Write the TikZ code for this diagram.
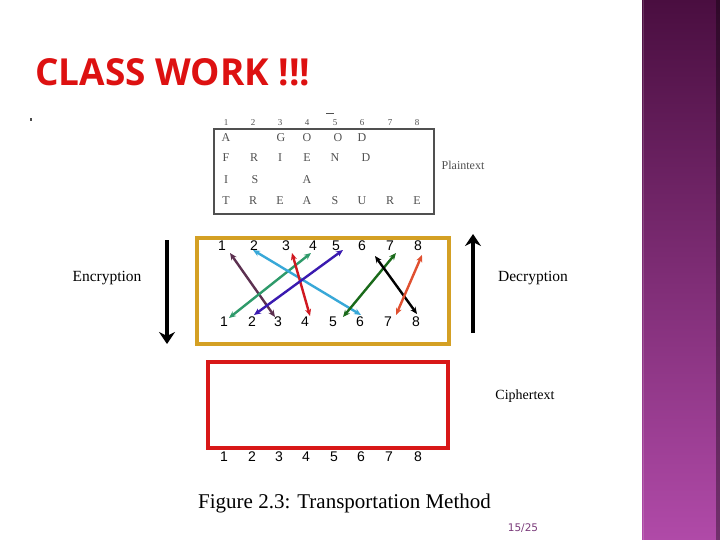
\documentclass[tikz,border=0pt]{standalone}
\usepackage{fontspec}
\usepackage{graphicx}
\setmainfont{Liberation Serif}
\setsansfont{Liberation Sans}
\newfontfamily\titlefont{Open Sans}
\newfontfamily\pagefont{DejaVu Sans}
\usetikzlibrary{arrows.meta}
\definecolor{barTop}{HTML}{4A0E40}
\definecolor{barBot}{HTML}{B04AA8}
\definecolor{titleRed}{HTML}{DD1111}
\definecolor{tblGray}{HTML}{505050}
\definecolor{boxGold}{HTML}{D4A024}
\definecolor{boxRed}{HTML}{D81818}
\definecolor{cPurple}{HTML}{5C3050}
\definecolor{cTeal}{HTML}{2E9A6A}
\definecolor{cCyan}{HTML}{38A8D8}
\definecolor{cRed}{HTML}{D01820}
\definecolor{cBlue}{HTML}{3A1AB0}
\definecolor{cGreen}{HTML}{1A6A1A}
\definecolor{cOrange}{HTML}{E05030}
\definecolor{pageNum}{HTML}{7A3A7A}
\tikzset{
  tbl/.style={font=\fontsize{12}{12}\selectfont, text=tblGray, inner sep=0pt},
  tblnum/.style={font=\fontsize{9}{9}\selectfont, text=tblGray, inner sep=0pt},
  digit/.style={font=\sffamily\fontsize{14}{14}\selectfont, inner sep=0pt},
  lbl/.style={font=\fontsize{15.5}{16}\selectfont, inner sep=0pt},
  perm/.style={line width=2.4pt, {Stealth[length=7pt,width=6pt]}-{Stealth[length=7pt,width=6pt]}},
  bigarrow/.style={line width=4pt, -{Stealth[length=12pt,width=16pt,inset=4pt]}}
}
\begin{document}
\begin{tikzpicture}[x=1pt,y=-1pt]
\useasboundingbox (0,0) rectangle (720,540);
\fill[white] (0,0) rectangle (720,540);
% purple side bar
\shade[top color=barTop, bottom color=barBot] (642,0) rectangle (720,540);
\fill[black,opacity=0.35] (716,0) rectangle (720,540);
\draw[white,opacity=0.15,line width=1pt] (643.5,0) -- (643.5,540);
% title
\node[anchor=north west, inner sep=0pt, text=titleRed] (title) at (35,58)
  {\resizebox{275pt}{27pt}{\titlefont\bfseries CLASS WORK !!!}};
\fill[black!70] (30,118) rectangle (32,121);
% plaintext table
\node[draw=tblGray, line width=2pt, minimum width=220pt, minimum height=85pt, anchor=north west, inner sep=0pt] (table) at (213,128) {};
\foreach \x [count=\i] in {226,253,280,307,335,362,390,417}
  \node[tblnum] (c\i) at (\x,123) {\i};
\draw[tblGray, line width=0.8pt] (326,113) -- (334,113);
\node[tbl] (a1) at (226,138) {A};
\node[tbl] (a3) at (281,138) {G};
\node[tbl] (a4) at (307,138) {O};
\node[tbl] (a5) at (338,138) {O};
\node[tbl] (a6) at (362,138) {D};
\node[tbl] (b1) at (226,158) {F};
\node[tbl] (b2) at (254,158) {R};
\node[tbl] (b3) at (280,158) {I};
\node[tbl] (b4) at (307,158) {E};
\node[tbl] (b5) at (335,158) {N};
\node[tbl] (b6) at (366,158) {D};
\node[tbl] (d1) at (226,180) {I};
\node[tbl] (d2) at (255,180) {S};
\node[tbl] (d4) at (307,180) {A};
\foreach \x/\l [count=\i] in {226/T,253/R,280/E,307/A,335/S,362/U,390/R,417/E}
  \node[tbl] (e\i) at (\x,201) {\l};
\node[tbl] (plain) at (463,165) {Plaintext};
% transposition box
\node[draw=boxGold, line width=4pt, minimum width=252pt, minimum height=106pt, anchor=north west, inner sep=0pt] (perm) at (195,236) {};
\foreach \x [count=\i] in {222,254,286,313,336,362,390,418}
  \node[digit] (t\i) at (\x,246) {\i};
\foreach \x [count=\i] in {224,252,278,305,333,360,388,416}
  \node[digit] (u\i) at (\x,322) {\i};
% arrow end points
\coordinate (pA) at (230,253); \coordinate (pB) at (275,317);
\coordinate (qA) at (229,318); \coordinate (qB) at (311,253);
\coordinate (rA) at (253,250); \coordinate (rB) at (361,315);
\coordinate (sA) at (292,253); \coordinate (sB) at (310,316);
\coordinate (vA) at (254,315); \coordinate (vB) at (343,250);
\coordinate (wA) at (343,317); \coordinate (wB) at (396,253);
\coordinate (kA) at (375,256); \coordinate (kB) at (417,314);
\coordinate (oA) at (422,255); \coordinate (oB) at (396,315);
\draw[perm, cPurple] (pA) -- (pB);
\draw[perm, cTeal] (qA) -- (qB);
\draw[perm, cCyan] (rA) -- (rB);
\draw[perm, cRed] (sA) -- (sB);
\draw[perm, cBlue] (vA) -- (vB);
\draw[perm, cGreen] (wA) -- (wB);
\draw[perm, black] (kA) -- (kB);
\draw[perm, cOrange] (oA) -- (oB);
% encryption / decryption
\node[lbl] (enc) at (107,278) {Encryption};
\node[lbl] (dec) at (533,278) {Decryption};
\coordinate (encTop) at (167,240); \coordinate (encBot) at (167,344);
\coordinate (decBot) at (473,333); \coordinate (decTop) at (473,234);
\draw[bigarrow] (encTop) -- (encBot);
\draw[bigarrow] (decBot) -- (decTop);
% ciphertext box
\node[draw=boxRed, line width=4pt, minimum width=240pt, minimum height=86pt, anchor=north west, inner sep=0pt] (cipher) at (206,360) {};
\node[lbl, font=\fontsize{14}{14}\selectfont] (ctext) at (525,396) {Ciphertext};
\foreach \x [count=\i] in {224,252,279,306,334,361,389,418}
  \node[digit] (z\i) at (\x,457) {\i};
% caption
\node[inner sep=0pt, anchor=west, font=\fontsize{21}{21}\selectfont] (cap) at (198,503) {Figure 2.3: Transportation Method};
\node[inner sep=0pt, text=pageNum, font=\pagefont\fontsize{10.5}{11}\selectfont] (page) at (523,528) {15/25};
\end{tikzpicture}
\end{document}
